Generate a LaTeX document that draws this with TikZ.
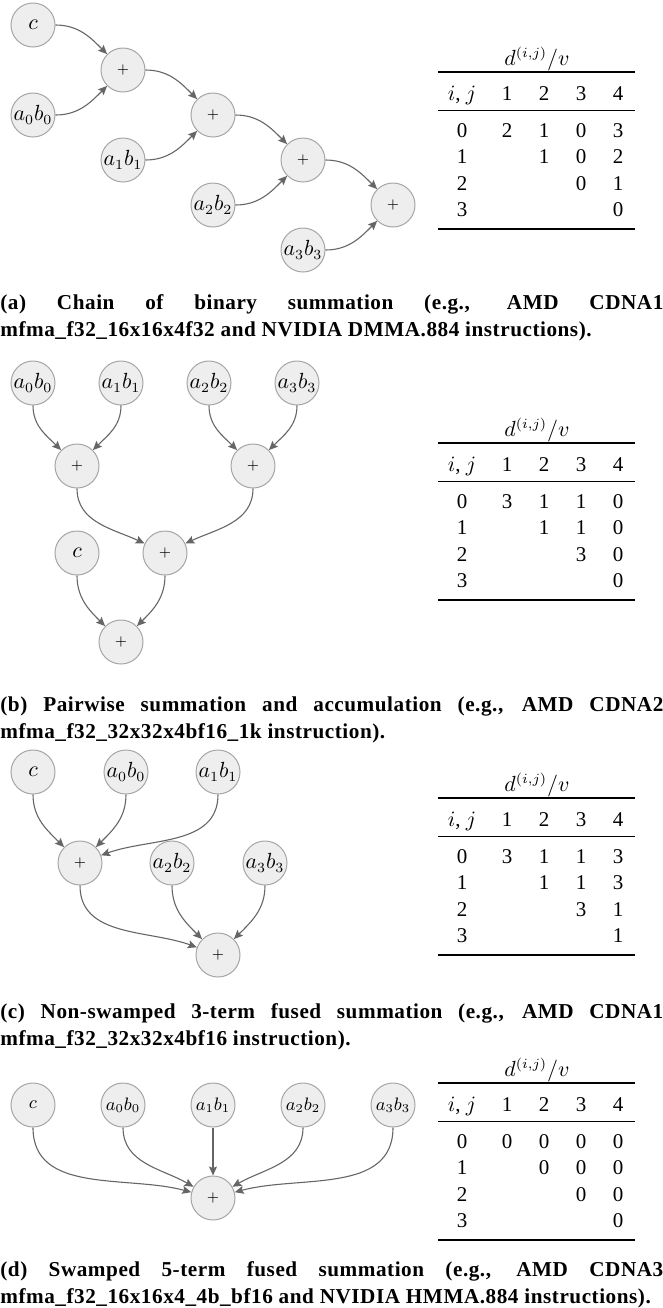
\documentclass[tikz,border=0pt]{standalone}
\usepackage{fontspec}
\setmainfont{Liberation Serif}
\usepackage{tikz}
\usetikzlibrary{arrows.meta}
\definecolor{nodefill}{HTML}{EEEEEE}
\definecolor{nodeline}{HTML}{A6A6A6}
\definecolor{edgegray}{HTML}{666666}

\begin{document}
\begin{tikzpicture}[x=0.5pt,y=-0.5pt,
	opnode/.style={circle,draw=nodeline,fill=nodefill,line width=0.5pt,minimum size=22pt,inner sep=0pt,font=\fontsize{10.5}{12}\selectfont},
	sumnode/.style={opnode,font=\fontsize{7.5}{9}\selectfont},
	flow/.style={draw=edgegray,line width=0.55pt,-{Stealth[length=4.5pt,width=4pt,inset=0.8pt]}},
	cell/.style={anchor=base,inner sep=0pt,font=\fontsize{10.5}{12}\selectfont},
	subcap/.style={anchor=base west,inner sep=0pt,text width=331.5pt,align=justify,font=\fontsize{10.6}{13.5}\selectfont\bfseries\addfontfeature{LetterSpace=2.5}}]
	\useasboundingbox (0,0) rectangle (663,1308);
	
	%(a) chain
	\node[opnode] (ac) at (33,25) {$c$};
	\foreach \k in {1,...,4}
		\node[sumnode] (ap\k) at ({33+90*\k},{25+45*\k}) {$+$};
	\foreach \k in {0,...,3}
		\node[opnode] (aab\k) at ({33+90*\k},{115+45*\k}) {$a_\k b_\k$};
	\draw[flow] (ac) to[out=0,in=135] (ap1);
	\foreach \k [evaluate=\k as \n using int(\k+1)] in {1,2,3}
		\draw[flow] (ap\k) to[out=0,in=135] (ap\n);
	\foreach \k [evaluate=\k as \n using int(\k+1)] in {0,...,3}
		\draw[flow] (aab\k) to[out=0,in=225] (ap\n);
	
	%(b) pairwise
	\foreach \k in {0,...,3}
		\node[opnode] (bab\k) at ({33+88*\k},383) {$a_\k b_\k$};
	\node[sumnode] (bpl) at (77,466) {$+$};
	\node[sumnode] (bpr) at (253,466) {$+$};
	\node[opnode] (bc) at (77,553) {$c$};
	\node[sumnode] (bpm) at (165,553) {$+$};
	\node[sumnode] (bpb) at (121,642) {$+$};
	\draw[flow] (bab0) to[out=-90,in=135] (bpl);
	\draw[flow] (bab1) to[out=-90,in=45] (bpl);
	\draw[flow] (bab2) to[out=-90,in=135] (bpr);
	\draw[flow] (bab3) to[out=-90,in=45] (bpr);
	\draw[flow] (bpl) to[out=-90,in=155] (bpm);
	\draw[flow] (bpr) to[out=-90,in=25] (bpm);
	\draw[flow] (bc) to[out=-90,in=135] (bpb);
	\draw[flow] (bpm) to[out=-90,in=45] (bpb);
	
	%(c) 3-term
	\node[opnode] (cc) at (33,772) {$c$};
	\node[opnode] (cab0) at (126,772) {$a_0b_0$};
	\node[opnode] (cab1) at (218,772) {$a_1b_1$};
	\node[sumnode] (cp1) at (80,863) {$+$};
	\node[opnode] (cab2) at (172,863) {$a_2b_2$};
	\node[opnode] (cab3) at (265,863) {$a_3b_3$};
	\node[sumnode] (cp2) at (218,955) {$+$};
	\draw[flow] (cc) to[out=-90,in=135] (cp1);
	\draw[flow] (cab0) to[out=-90,in=45] (cp1);
	\draw[flow] (cab1) to[out=-90,in=20] (cp1);
	\draw[flow] (cp1) to[out=-90,in=160] (cp2);
	\draw[flow] (cab2) to[out=-90,in=135] (cp2);
	\draw[flow] (cab3) to[out=-90,in=45] (cp2);
	
	%(d) 5-term
	\begin{scope}[opnode/.append style={font=\fontsize{9}{11}\selectfont}]
	\node[opnode] (dc) at (33,1105) {$c$};
	\foreach \k in {0,...,3}
		\node[opnode] (dab\k) at ({123+90*\k},1105) {$a_\k b_\k$};
	\node[sumnode] (dp) at (213,1198) {$+$};
	\end{scope}
	\draw[flow] (dc) to[out=-90,in=165] (dp);
	\draw[flow] (dab0) to[out=-90,in=150] (dp);
	\draw[flow] (dab1) -- (dp);
	\draw[flow] (dab2) to[out=-90,in=30] (dp);
	\draw[flow] (dab3) to[out=-90,in=15] (dp);
	
	%tables d^(i,j)/v
	\foreach \T/\ra/\rb/\rc/\rd in {72/{2,1,0,3}/{1,0,2}/{0,1}/{0},
			443/{3,1,1,0}/{1,1,0}/{3,0}/{0},
			798/{3,1,1,3}/{1,1,3}/{3,1}/{1},
			1083/{0,0,0,0}/{0,0,0}/{0,0}/{0}}{
		\node[cell] (t\T-title) at (537,\T-7) {$d^{(i,j)}/v$};
		\draw[line width=0.8pt] (438,\T) -- (635,\T);
		\node[cell] (t\T-ij) at (462,\T+28) {$i$, $j$};
		\foreach \j in {1,...,4}
			\node[cell] (t\T-h\j) at ({470+37*\j},\T+28) {\j};
		\draw[line width=0.5pt] (438,\T+38) -- (635,\T+38);
		\foreach \i in {0,...,3}
			\node[cell] (t\T-r\i) at (462,{\T+65+26.5*\i}) {\i};
		\foreach \v [count=\k] in \ra
			\node[cell] (t\T-0-\k) at ({470+37*\k},\T+65) {\v};
		\foreach \v [count=\k] in \rb
			\node[cell] (t\T-1-\k) at ({470+37*(\k+1)},\T+91.5) {\v};
		\foreach \v [count=\k] in \rc
			\node[cell] (t\T-2-\k) at ({470+37*(\k+2)},\T+118) {\v};
		\foreach \v [count=\k] in \rd
			\node[cell] (t\T-3-\k) at ({470+37*(\k+3)},\T+144.5) {\v};
		\draw[line width=0.8pt] (438,\T+157) -- (635,\T+157);
	}
	
	%captions
	\node[subcap] (capa) at (0,309) {(a) Chain of binary summation (e.g., AMD CDNA1\linebreak mfma\_f32\_16x16x4f32 and NVIDIA DMMA.884 instructions).};
	\node[subcap] (capb) at (0,711) {(b) Pairwise summation and accumulation (e.g., AMD CDNA2\linebreak mfma\_f32\_32x32x4bf16\_1k instruction).};
	\node[subcap] (capc) at (0,1018) {(c) Non-swamped 3-term fused summation (e.g., AMD CDNA1\linebreak mfma\_f32\_32x32x4bf16 instruction).};
	\node[subcap] (capd) at (0,1276) {(d) Swamped 5-term fused summation (e.g., AMD CDNA3\linebreak mfma\_f32\_16x16x4\_4b\_bf16 and NVIDIA HMMA.884 instructions).};
\end{tikzpicture}
\end{document}
